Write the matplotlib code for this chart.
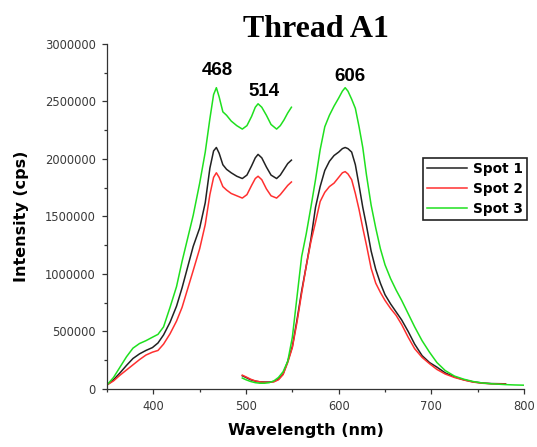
import numpy as np
import matplotlib
matplotlib.use("Agg")
import matplotlib.pyplot as plt
from matplotlib.ticker import MultipleLocator, FormatStrFormatter

# --- data (cps) ---
# first segment (excitation side), same wavelengths for all spots
wl1 = [350, 357, 364, 371, 378, 385, 392, 399, 405, 411, 418, 425, 431, 437,
       443, 450, 456, 461, 465, 468, 471, 475, 479, 484, 490, 496, 501, 506,
       510, 513, 517, 522, 527, 533, 537, 541, 545, 549]
spot1_a = [35e3, 80e3, 140e3, 205e3, 265e3, 305e3, 335e3, 360e3, 400e3, 470e3,
           580e3, 720e3, 880e3, 1060e3, 1240e3, 1400e3, 1620e3, 1920e3, 2070e3,
           2100e3, 2050e3, 1950e3, 1910e3, 1880e3, 1850e3, 1830e3, 1860e3,
           1940e3, 2010e3, 2040e3, 2010e3, 1930e3, 1860e3, 1830e3, 1860e3,
           1910e3, 1960e3, 1990e3]
spot2_a = [35e3, 70e3, 120e3, 165e3, 210e3, 255e3, 295e3, 320e3, 335e3, 390e3,
           480e3, 590e3, 710e3, 870e3, 1030e3, 1220e3, 1430e3, 1690e3, 1840e3,
           1880e3, 1840e3, 1760e3, 1730e3, 1700e3, 1680e3, 1660e3, 1690e3,
           1770e3, 1830e3, 1850e3, 1820e3, 1740e3, 1680e3, 1660e3, 1690e3,
           1730e3, 1770e3, 1800e3]
spot3_a = [35e3, 100e3, 190e3, 280e3, 355e3, 395e3, 420e3, 450e3, 475e3, 540e3,
           710e3, 890e3, 1110e3, 1310e3, 1510e3, 1790e3, 2060e3, 2350e3, 2560e3,
           2620e3, 2540e3, 2410e3, 2380e3, 2330e3, 2290e3, 2260e3, 2290e3,
           2370e3, 2450e3, 2480e3, 2450e3, 2380e3, 2300e3, 2260e3, 2290e3,
           2340e3, 2400e3, 2450e3]

# second segment (emission band around 606 nm)
wl2 = [496, 500, 505, 510, 515, 520, 525, 530, 535, 540, 545, 550, 555, 560,
       565, 570, 575, 580, 585, 590, 595, 600, 604, 607, 610, 614, 618, 622,
       626, 630, 635, 640, 645, 650, 656, 662, 668, 675, 682, 690, 698, 706,
       715, 725, 735, 745, 755, 765, 780]
spot1_b = [115e3, 100e3, 80e3, 68e3, 62e3, 60e3, 60e3, 65e3, 85e3, 130e3,
           240e3, 370e3, 600e3, 850e3, 1070e3, 1300e3, 1580e3, 1760e3, 1900e3,
           1980e3, 2030e3, 2060e3, 2090e3, 2100e3, 2090e3, 2060e3, 1950e3,
           1770e3, 1580e3, 1420e3, 1200e3, 1040e3, 920e3, 820e3, 740e3, 670e3,
           600e3, 500e3, 390e3, 290e3, 230e3, 190e3, 140e3, 105e3, 80e3, 62e3,
           52e3, 47e3, 45e3]
spot2_b = [120e3, 105e3, 85e3, 70e3, 62e3, 58e3, 58e3, 62e3, 80e3, 125e3,
           230e3, 360e3, 580e3, 830e3, 1070e3, 1280e3, 1450e3, 1630e3, 1710e3,
           1760e3, 1790e3, 1840e3, 1880e3, 1890e3, 1870e3, 1820e3, 1700e3,
           1560e3, 1400e3, 1250e3, 1050e3, 920e3, 840e3, 770e3, 700e3, 640e3,
           560e3, 450e3, 350e3, 275e3, 220e3, 170e3, 130e3, 100e3, 78e3, 60e3,
           50e3, 45e3, 42e3]
wl2_s3 = wl2 + [790, 800]
spot3_b = [95e3, 80e3, 65e3, 55e3, 50e3, 50e3, 55e3, 70e3, 100e3, 150e3,
           240e3, 450e3, 800e3, 1150e3, 1350e3, 1580e3, 1820e3, 2080e3, 2280e3,
           2380e3, 2460e3, 2530e3, 2590e3, 2620e3, 2590e3, 2520e3, 2440e3,
           2280e3, 2100e3, 1860e3, 1600e3, 1400e3, 1220e3, 1080e3, 960e3, 860e3,
           770e3, 655e3, 540e3, 420e3, 320e3, 230e3, 160e3, 112e3, 85e3, 65e3,
           52e3, 45e3, 38e3, 35e3, 33e3]

labels = ["Spot 1", "Spot 2", "Spot 3"]
colors = ["#222222", "#ff3030", "#1fe01f"]

peak_text = ["468", "514", "606"]
peak_x = [469, 519, 612]
peak_y = [2770000, 2590000, 2720000]

fig = plt.figure(figsize=(5.37, 4.47), dpi=100)
ax = fig.add_axes([0.1993, 0.1298, 0.7765, 0.7718])

seg_a = [spot1_a, spot2_a, spot3_a]
seg_b = [(wl2, spot1_b), (wl2, spot2_b), (wl2_s3, spot3_b)]
for i in range(3):
    ax.plot(wl1, seg_a[i], color=colors[i], lw=1.1, label=labels[i])
    ax.plot(seg_b[i][0], seg_b[i][1], color=colors[i], lw=1.1)

ax.set_xlim(350, 800)
ax.set_ylim(0, 3000000)
ax.xaxis.set_major_locator(MultipleLocator(100))
ax.xaxis.set_minor_locator(MultipleLocator(50))
ax.yaxis.set_major_locator(MultipleLocator(500000))
ax.yaxis.set_minor_locator(MultipleLocator(250000))
ax.yaxis.set_major_formatter(FormatStrFormatter("%d"))

for s in ["top", "right"]:
    ax.spines[s].set_visible(False)
for s in ["left", "bottom"]:
    ax.spines[s].set_color("#333333")
    ax.spines[s].set_linewidth(0.9)
ax.tick_params(which="major", direction="out", length=3.6, width=0.9,
               color="#333333", labelsize=8.3, labelcolor="#3a3a3a", pad=4.5)
ax.tick_params(which="minor", direction="out", length=2.4, width=0.9,
               color="#333333")

ax.set_xlabel("Wavelength (nm)", fontsize=11.5, fontweight="bold")
ax.set_ylabel("Intensity (cps)", fontsize=11.5, fontweight="bold")
ax.xaxis.set_label_coords(0.476, -0.099)
ax.yaxis.set_label_coords(-0.187, 0.5)

ax.set_title("Thread A1", fontsize=23, fontweight="bold",
             family="Liberation Serif", pad=5)

for t, x, y in zip(peak_text, peak_x, peak_y):
    ax.text(x, y, t, ha="center", va="center", fontsize=13.5,
            fontweight="bold", family="Liberation Sans")

leg = ax.legend(loc="upper left", bbox_to_anchor=(0.758, 0.67),
                prop={"weight": "bold", "size": 9.8},
                frameon=True, fancybox=False, edgecolor="#222222",
                framealpha=1, borderpad=0.3, labelspacing=0.45,
                handlelength=2.9, handletextpad=0.45, borderaxespad=0)
leg.get_frame().set_linewidth(1.2)

plt.savefig("out.png", dpi=100)
